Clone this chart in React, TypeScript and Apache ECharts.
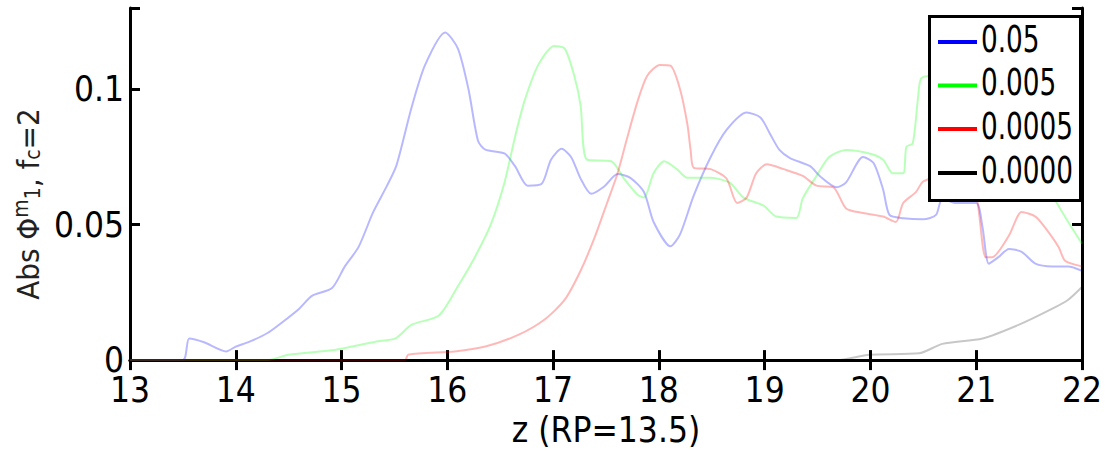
import React, { useEffect, useRef } from "react";
import * as echarts from "echarts";

// ---- data ----
const xTicks = [13, 14, 15, 16, 17, 18, 19, 20, 21, 22];
const yTickLabels = ["0", "0.05", "0.1"];
const legendLabels = ["0.05", "0.005", "0.0005", "0.0000"];
const seriesColors = ["#0000ff", "#00ff00", "#ff0000", "#000000"];

const zBlue = [13.0, 13.5, 13.56, 13.7, 13.91, 14.0, 14.13, 14.3, 14.44, 14.6, 14.72, 14.91, 15.03, 15.16, 15.3, 15.43, 15.52, 15.66, 15.79, 15.98, 16.1, 16.2, 16.29, 16.36, 16.54, 16.64, 16.76, 16.89, 16.98, 17.08, 17.17, 17.26, 17.36, 17.48, 17.61, 17.73, 17.86, 17.95, 18.11, 18.2, 18.33, 18.49, 18.64, 18.83, 18.96, 19.05, 19.14, 19.24, 19.43, 19.52, 19.68, 19.77, 19.93, 20.03, 20.12, 20.18, 20.31, 20.5, 20.62, 20.68, 20.81, 21.0, 21.06, 21.12, 21.21, 21.31, 21.43, 21.56, 21.72, 21.87, 22.0];
const vBlue = [0, 0, 0.008, 0.0066, 0.0032, 0.005, 0.0068, 0.01, 0.014, 0.019, 0.0237, 0.0266, 0.0345, 0.0417, 0.0547, 0.0644, 0.072, 0.093, 0.109, 0.121, 0.115, 0.1, 0.081, 0.0777, 0.0763, 0.0716, 0.0644, 0.065, 0.074, 0.078, 0.075, 0.067, 0.0614, 0.064, 0.0687, 0.0673, 0.062, 0.051, 0.042, 0.0464, 0.0608, 0.075, 0.085, 0.0914, 0.0896, 0.0836, 0.0776, 0.0746, 0.0716, 0.068, 0.0638, 0.0656, 0.075, 0.0728, 0.063, 0.0536, 0.0524, 0.052, 0.0536, 0.0596, 0.058, 0.058, 0.049, 0.0356, 0.038, 0.041, 0.04, 0.0356, 0.0346, 0.0346, 0.033];

const zGreen = [13.0, 14.3, 14.5, 14.91, 15.1, 15.32, 15.51, 15.66, 15.92, 16.1, 16.26, 16.41, 16.54, 16.64, 16.73, 16.86, 17.01, 17.11, 17.2, 17.26, 17.32, 17.55, 17.67, 17.8, 17.86, 17.95, 18.05, 18.17, 18.27, 18.49, 18.67, 18.8, 18.99, 19.11, 19.3, 19.36, 19.49, 19.61, 19.77, 19.99, 20.12, 20.21, 20.31, 20.34, 20.4, 20.45, 20.48, 20.6, 20.9, 21.2, 21.5, 21.72, 21.87, 22.0];
const vGreen = [0, 0, 0.002, 0.0036, 0.005, 0.0068, 0.008, 0.013, 0.0165, 0.0273, 0.038, 0.05, 0.0655, 0.0824, 0.0957, 0.109, 0.116, 0.115, 0.105, 0.094, 0.074, 0.0734, 0.067, 0.061, 0.06, 0.069, 0.0734, 0.0705, 0.0673, 0.0673, 0.0655, 0.06, 0.057, 0.053, 0.0525, 0.0597, 0.068, 0.075, 0.0776, 0.0763, 0.074, 0.069, 0.069, 0.0788, 0.08, 0.0968, 0.104, 0.105, 0.1, 0.095, 0.08, 0.061, 0.051, 0.043];

const zRed = [13.0, 15.6, 15.63, 16.07, 16.36, 16.67, 16.92, 17.11, 17.26, 17.39, 17.51, 17.61, 17.7, 17.8, 17.89, 18.01, 18.11, 18.2, 18.27, 18.3, 18.33, 18.49, 18.64, 18.74, 18.83, 18.92, 19.02, 19.18, 19.36, 19.49, 19.65, 19.77, 19.93, 20.12, 20.24, 20.31, 20.43, 20.5, 20.7, 20.9, 21.0, 21.09, 21.15, 21.31, 21.43, 21.56, 21.65, 21.78, 21.84, 22.0];
const vRed = [0, 0, 0.002, 0.0032, 0.005, 0.0093, 0.015, 0.0223, 0.033, 0.045, 0.058, 0.069, 0.082, 0.0957, 0.105, 0.109, 0.1087, 0.1, 0.087, 0.0776, 0.071, 0.0705, 0.067, 0.058, 0.06, 0.069, 0.0723, 0.0705, 0.068, 0.0644, 0.0638, 0.056, 0.0543, 0.053, 0.051, 0.058, 0.062, 0.066, 0.068, 0.066, 0.061, 0.038, 0.038, 0.046, 0.0547, 0.053, 0.049, 0.0417, 0.0367, 0.0346];

const zBlack = [13.0, 19.68, 19.99, 20.46, 20.68, 21.06, 21.4, 21.72, 21.87, 22.0];
const vBlack = [0, 0, 0.002, 0.0025, 0.006, 0.008, 0.013, 0.019, 0.0223, 0.027];

const FONT = "'DejaVu Sans Condensed', 'Liberation Sans Narrow', 'Liberation Sans', Arial, sans-serif";

function pairs(z: number[], v: number[]) {
  return z.map((x, i) => [x, v[i]]);
}

export default function App() {
  const ref = useRef<HTMLDivElement>(null);
  useEffect(() => {
    if (!ref.current) return;
    const chart = echarts.init(ref.current, undefined, { renderer: "svg" });
    const all = [
      pairs(zBlue, vBlue),
      pairs(zGreen, vGreen),
      pairs(zRed, vRed),
      pairs(zBlack, vBlack),
    ];
    const axisLine = { show: true, lineStyle: { color: "#000", width: 3 } };
    const tick = { show: true, inside: true, length: 10, lineStyle: { color: "#000", width: 3 } };
    const yFmt = (v: number) => {
      const idx = [0, 0.05, 0.1].findIndex((t) => Math.abs(t - v) < 1e-9);
      return idx >= 0 ? yTickLabels[idx] : "";
    };
    const legendRowY = [39, 82.5, 126, 170];
    const graphic: any[] = [
      {
        type: "rect",
        z: 100,
        shape: { x: 929.5, y: 16.5, width: 151, height: 184 },
        style: { fill: "#fff", stroke: "#000", lineWidth: 3 },
      },
    ];
    legendLabels.forEach((lab, i) => {
      graphic.push({
        type: "line",
        z: 101,
        shape: { x1: 938, y1: legendRowY[i] + 3, x2: 977, y2: legendRowY[i] + 3 },
        style: { stroke: seriesColors[i], lineWidth: 4 },
      });
      graphic.push({
        type: "text",
        z: 101,
        x: 981,
        y: legendRowY[i],
        scaleX: 0.79,
        style: {
          text: lab,
          fill: "#000",
          font: `37px ${FONT}`,
          textVerticalAlign: "middle",
          textAlign: "left",
        },
      });
    });

    chart.setOption({
      animation: false,
      backgroundColor: "#fff",
      grid: { left: 130, right: 18, top: 8, bottom: 83 },
      graphic,
      xAxis: [
        {
          type: "value",
          min: 13,
          max: 22,
          interval: 1,
          axisLine,
          axisTick: tick,
          splitLine: { show: false },
          axisLabel: {
            color: "#000",
            fontSize: 35,
            fontFamily: FONT,
            margin: 12,
            formatter: (v: number) => (xTicks.includes(v) ? String(v) : ""),
          },
          name: "z (RP=13.5)",
          nameLocation: "middle",
          nameGap: 42,
          nameTextStyle: { color: "#000", fontSize: 35, fontFamily: FONT },
        },
        {
          type: "value",
          position: "top",
          min: 13,
          max: 22,
          interval: 1,
          axisLine,
          axisTick: tick,
          axisLabel: { show: false },
          splitLine: { show: false },
        },
      ],
      yAxis: [
        {
          type: "value",
          min: 0,
          max: 0.13,
          interval: 0.05,
          axisLine,
          axisTick: tick,
          splitLine: { show: false },
          axisLabel: {
            color: "#000",
            fontSize: 35,
            fontFamily: FONT,
            margin: 6,
            formatter: yFmt,
          },
          name: "{t|Abs Φ}{sup|m}{sub|1}{t|, f}{sub|c}{t|=2}",
          nameLocation: "middle",
          nameRotate: 90,
          nameGap: 70,
          nameTextStyle: {
            color: "#222",
            fontFamily: FONT,
            padding: [0, 40, 0, 0],
            rich: {
              t: { fontSize: 31, fontFamily: FONT, color: "#222" },
              sup: { fontSize: 21, fontFamily: FONT, color: "#222", padding: [0, 0, 14, 0] },
              sub: { fontSize: 21, fontFamily: FONT, color: "#222", padding: [10, 0, 0, 0] },
            },
          },
        },
        {
          type: "value",
          position: "right",
          min: 0,
          max: 0.13,
          interval: 0.05,
          axisLine,
          axisTick: tick,
          axisLabel: { show: false },
          splitLine: { show: false },
        },
      ],
      series: all.map((d, i) => ({
        type: "line",
        name: legendLabels[i],
        data: d,
        showSymbol: false,
        symbol: "none",
        clip: false,
        smooth: 0.25,
        z: 3,
        lineStyle: { color: seriesColors[i], width: 2, opacity: i === 3 ? 0.22 : 0.28 },
        emphasis: { disabled: true },
      })),
    });
    return () => chart.dispose();
  }, []);
  return (
    <div
      ref={ref}
      style={{ position: "absolute", left: 0, top: 0, width: 1105, height: 452 }}
    />
  );
}
